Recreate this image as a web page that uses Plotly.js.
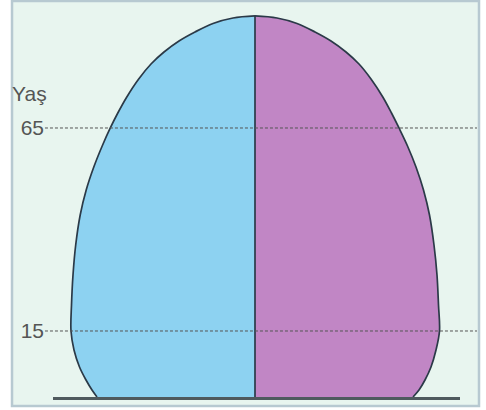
<!DOCTYPE html>
<html>
<head>
<meta charset="utf-8">
<script src="https://cdn.plot.ly/plotly-3.0.1.min.js"></script>
<style>html,body{margin:0;padding:0;background:#fff;}#chart{width:486px;height:410px;}</style>
</head>
<body>
<div id="chart"></div>
<script>
// Age levels (bottom to top)
const ages = [-1.25, 0.47, 2.93, 6.13, 10.32, 15.0, 21.4, 28.79, 36.18, 43.57, 49.73, 55.39, 60.57, 65.0, 68.69, 72.64, 77.07, 80.76, 83.72, 86.43, 88.65, 90.74, 92.09, 92.59];
// Half-widths of the pyramid (left = blue group, right = purple group)
const leftShare  = [15.8, 16.3, 16.9, 17.55, 18.1, 18.4, 18.35, 18.2, 17.93, 17.48, 16.88, 16.12, 15.28, 14.47, 13.72, 12.82, 11.63, 10.4, 9.1, 7.6, 6.0, 4.2, 2.2, 0];
const rightShare = [15.8, 16.4, 17.0, 17.6, 18.1, 18.45, 18.35, 18.2, 17.9, 17.45, 16.85, 16.1, 15.25, 14.4, 13.65, 12.78, 11.6, 10.4, 9.1, 7.6, 6.0, 4.2, 2.2, 0];
// Age tick labels
const ageTicks = [15, 65];
const ageTickText = ['15', '65'];
const axisLabel = 'Yaş';

const outline = '#2b3a48';
const traces = [
  {
    x: leftShare.map(v => -v), y: ages, type: 'scatter', mode: 'lines',
    line: {color: outline, width: 1.7, shape: 'spline', smoothing: 1},
    fill: 'tozerox', fillcolor: '#8dd2f1', hoverinfo: 'skip', showlegend: false
  },
  {
    x: rightShare, y: ages, type: 'scatter', mode: 'lines',
    line: {color: outline, width: 1.7, shape: 'spline', smoothing: 1},
    fill: 'tozerox', fillcolor: '#c186c5', hoverinfo: 'skip', showlegend: false
  },
  {
    x: [0, 0], y: [ages[0], ages[ages.length - 1]], type: 'scatter', mode: 'lines',
    line: {color: outline, width: 1.7}, hoverinfo: 'skip', showlegend: false
  }
];

const shapes = [
  {type: 'rect', xref: 'paper', yref: 'paper', x0: -0.1007, x1: 1.0467, y0: -0.0233, y1: 1.0233,
   fillcolor: '#e8f5ef', line: {color: '#b7c9d1', width: 2.5}, layer: 'below'}
].concat(ageTicks.map(a => ({
  type: 'line', xref: 'paper', yref: 'y', x0: -0.0197, x1: 1.0418, y0: a, y1: a,
  line: {color: '#555555', width: 1, dash: '3px,2px'}, layer: 'above'
})));

const layout = {
  width: 486, height: 410,
  margin: {l: 53, r: 26, t: 10, b: 13},
  paper_bgcolor: '#ffffff', plot_bgcolor: 'rgba(0,0,0,0)',
  showlegend: false,
  font: {family: '"Liberation Sans", Arial, sans-serif', color: '#555555'},
  xaxis: {range: [-20.2, 20.5], showgrid: false, zeroline: false, showticklabels: false,
          showline: true, linecolor: '#4f5a5e', linewidth: 3, ticks: '', fixedrange: true},
  yaxis: {range: [-1.257, 94.06], showgrid: false, zeroline: false, showline: false,
          tickvals: ageTicks, ticktext: ageTickText, ticks: '', ticklabelstandoff: 8,
          tickfont: {size: 21, color: '#555555', family: '"Liberation Sans", Arial, sans-serif'}, fixedrange: true},
  shapes: shapes,
  annotations: [{
    text: axisLabel, xref: 'paper', yref: 'paper', x: -0.057, y: 0.785,
    xanchor: 'center', yanchor: 'middle', showarrow: false,
    font: {size: 21, color: '#555555', family: '"Liberation Sans", Arial, sans-serif'}
  }]
};

Plotly.newPlot('chart', traces, layout, {displayModeBar: false, staticPlot: true});
</script>
</body>
</html>
